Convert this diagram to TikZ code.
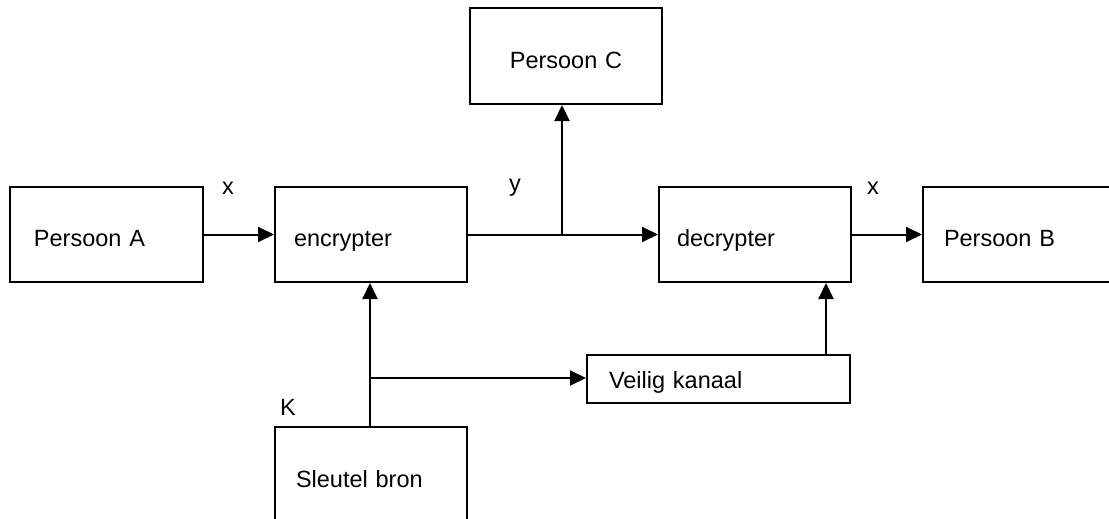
\documentclass[tikz,border=0pt]{standalone}
\usepackage{fontspec}
\setmainfont{Liberation Sans}
\usetikzlibrary{arrows.meta}
\begin{document}
\begin{tikzpicture}[x=1pt,y=1pt,
  box/.style={draw=black,line width=2pt,rectangle,anchor=north west,
    font=\fontsize{23.5}{27}\selectfont,align=left,inner ysep=0pt,
    text depth=0pt,text height=23pt},
  lbl/.style={font=\fontsize{23.5}{27}\selectfont,inner sep=0pt},
  conn/.style={line width=2pt},
  arr/.style={conn,-{Triangle[length=16pt,width=15pt]}}]
\useasboundingbox (0,0) rectangle (1109,-519);
\clip (0,0) rectangle (1109,-519);
% boxes
\node[box,minimum width=193pt,minimum height=95pt,text width=145pt,inner xsep=24pt] (A) at (9,-186) {Persoon A};
\node[box,minimum width=192pt,minimum height=95pt,text width=154pt,inner xsep=19pt] (enc) at (274,-186) {encrypter};
\node[box,minimum width=192pt,minimum height=96pt,text width=192pt,inner xsep=0pt,align=center,text height=26pt] (C) at (469,-7) {Persoon C};
\node[box,minimum width=192pt,minimum height=95pt,text width=156pt,inner xsep=18pt] (dec) at (658,-186) {decrypter};
\node[box,minimum width=200pt,minimum height=95pt,text width=158pt,inner xsep=21pt] (B) at (922,-186) {Persoon B};
\node[box,minimum width=263pt,minimum height=48pt,text width=219pt,inner xsep=22pt,text height=18pt] (V) at (586,-354) {Veilig kanaal};
\node[box,minimum width=192pt,minimum height=104pt,text width=150pt,inner xsep=21pt,text height=16pt] (S) at (274,-426) {Sleutel bron};
% junction points
\coordinate (jy) at (562,-233.5);
\coordinate (jk) at (370,-378);
% connectors
\draw[arr] (A.east) -- (A.east -| enc.west);
\draw[arr] (enc.east) -- (enc.east -| dec.west);
\draw[arr] (jy) -- (jy |- C.south);
\draw[arr] (dec.east) -- (dec.east -| B.west);
\draw[arr] (S.north -| jk) -- (jk |- enc.south);
\draw[arr] (jk) -- (jk -| V.west);
\draw[arr] (V.north -| 826,0) -- (826,0 |- dec.south);
% labels
\node[lbl] (lx1) at (228,-188) {x};
\node[lbl] (ly) at (515,-188) {y};
\node[lbl] (lx2) at (873,-188) {x};
\node[lbl] (lk) at (288,-407) {K};
\end{tikzpicture}
\end{document}
